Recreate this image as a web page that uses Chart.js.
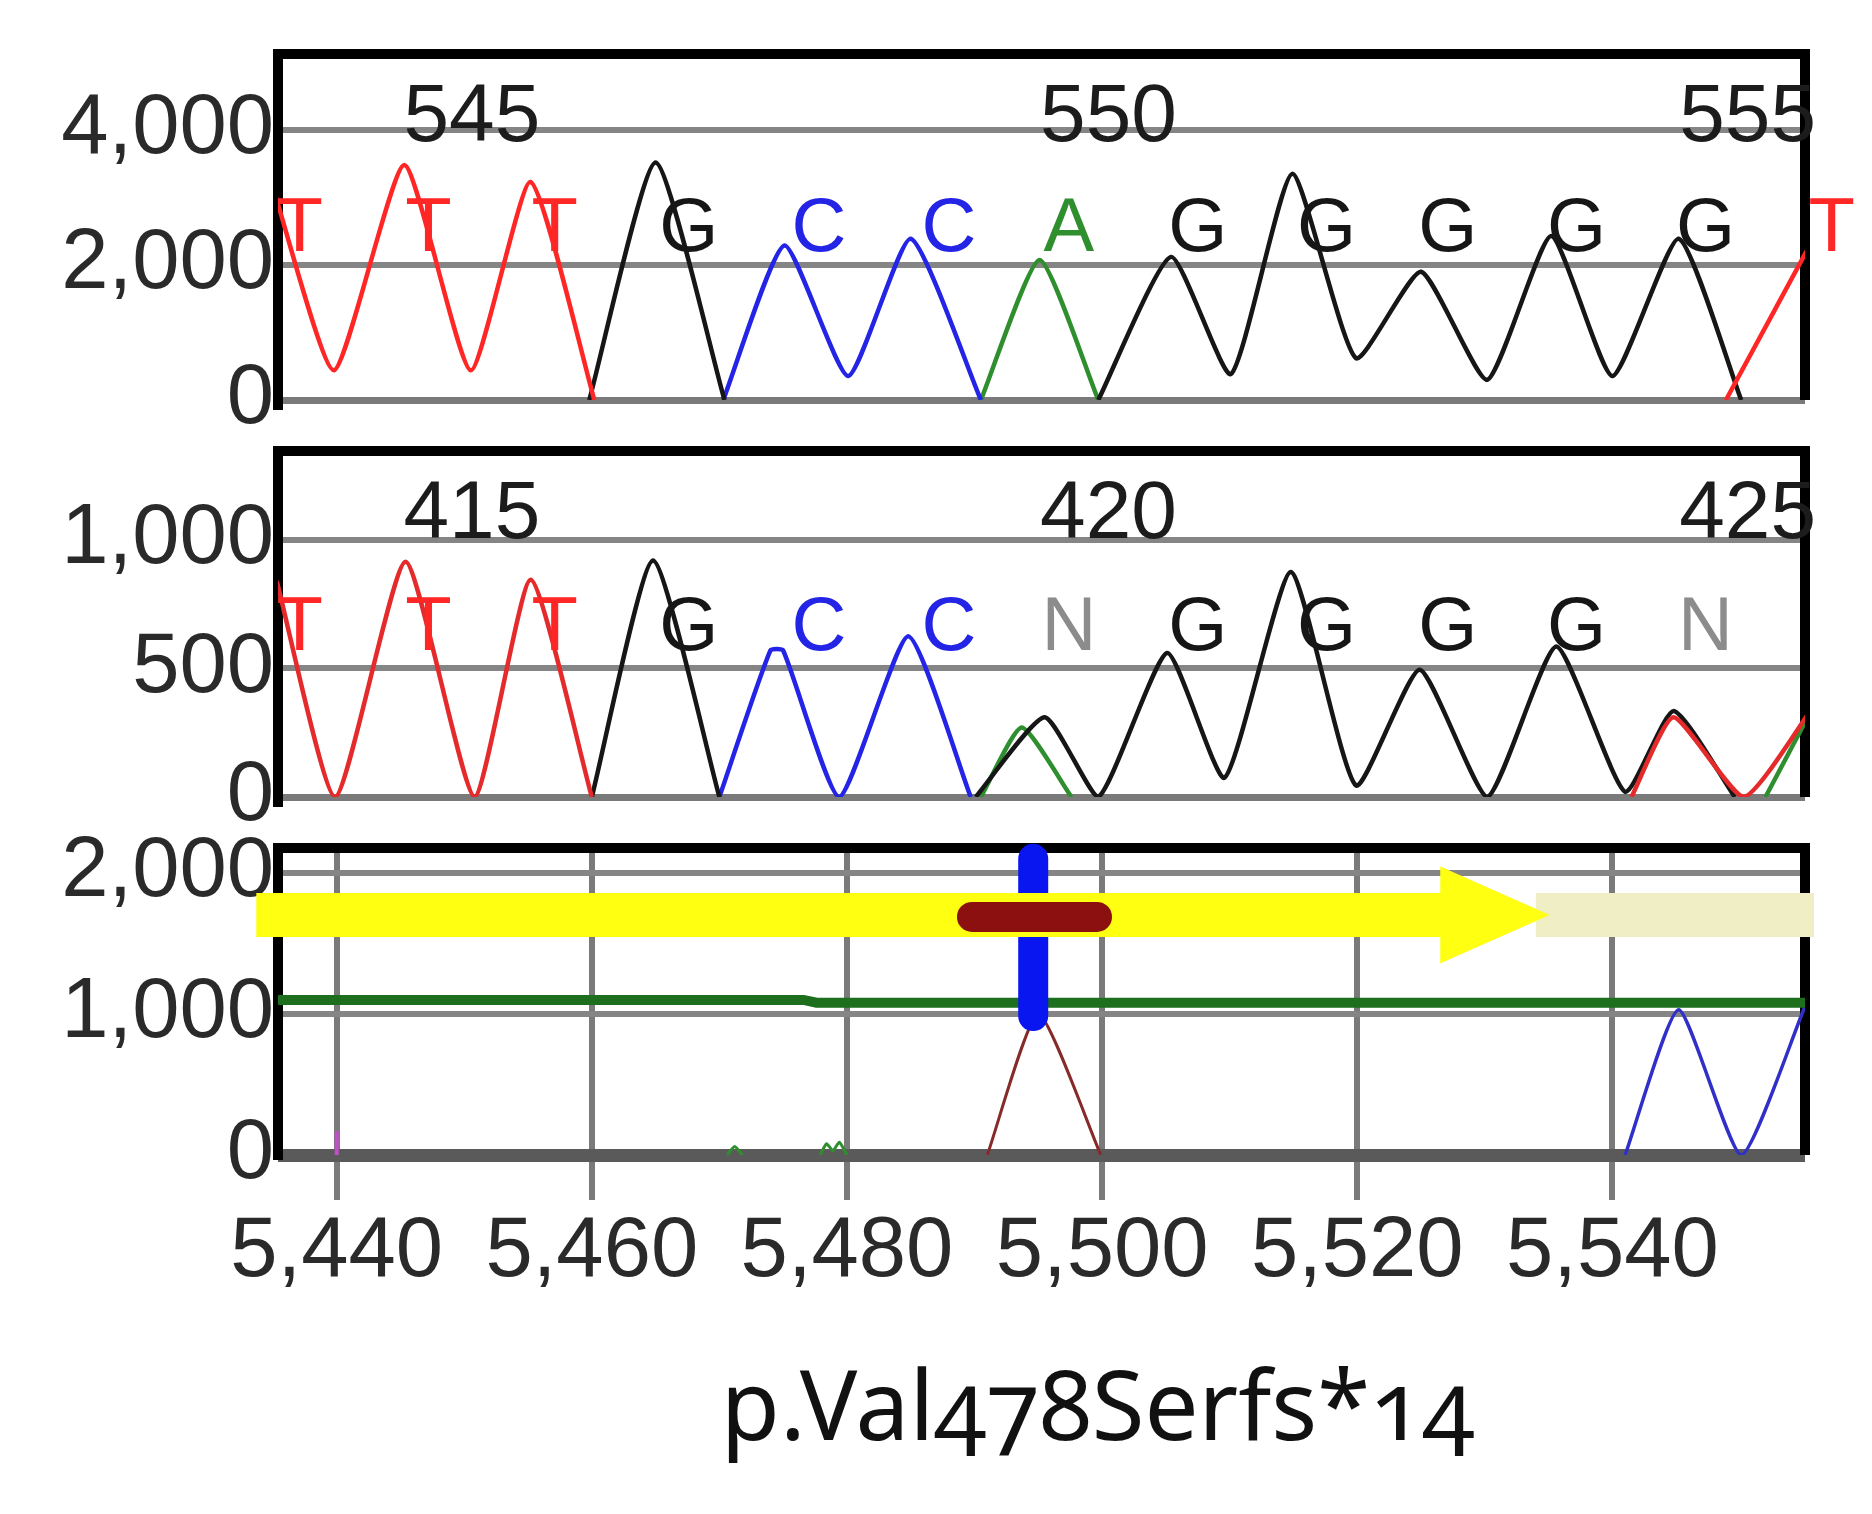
<!DOCTYPE html>
<html lang="en">
<head>
<meta charset="UTF-8">
<title>Chromatogram p.Val478Serfs*14</title>
<style>
  body { margin: 0; background: #fff; }
  #page { position: relative; width: 1872px; height: 1514px; overflow: hidden; background: #fff; }
  canvas { position: absolute; left: 0; }
  #c1 { top: 0; }
  #c2 { top: 420px; }
  #c3 { top: 820px; }
  #variant {
    position: absolute;
    left: 1098px;
    top: 1355px;
    transform: translateX(-50%);
    font-family: "Noto Sans", "Open Sans", sans-serif;
    font-size: 96px;
    line-height: 1;
    font-feature-settings: "onum" 1;
    font-variant-numeric: oldstyle-nums;
    color: #111;
    white-space: nowrap;
  }
</style>
</head>
<body>
<div id="page">
  <canvas id="c1" width="1872" height="450"></canvas>
  <canvas id="c2" width="1872" height="440"></canvas>
  <canvas id="c3" width="1872" height="520"></canvas>
  <div id="variant">p.Val478Serfs*14</div>
</div>

<script src="https://cdn.jsdelivr.net/npm/chart.js@4"></script>
<script>
// scan window shared by all three panels
const scanMin = 5435.4;
const scanMax = 5555.1;
const scanTicks = [5440, 5460, 5480, 5500, 5520, 5540];

// base calls (scan position of each called base)
const basePos = [5437.1, 5447.2, 5457.1, 5467.6, 5477.8, 5488.0, 5497.4, 5507.5, 5517.6, 5527.1, 5537.2, 5547.3, 5557.2];
const numPos = [5450.6, 5500.5, 5550.6];

// top panel - reference sequence, positions 545-555
const refTicks = [0, 2000, 4000];
const refMax = 5126;
const refBases = ['T', 'T', 'T', 'G', 'C', 'C', 'A', 'G', 'G', 'G', 'G', 'G', 'T'];
const refNums = ['545', '550', '555'];
const refT = [[5435.0, 3150], [5439.8, 440], [5445.3, 3480], [5450.5, 440], [5455.2, 3230], [5460.2, 0], null, [5548.9, 0], [5556.5, 2650]];
const refG = [[5459.8, 0], [5465.0, 3520], [5470.4, 0], null, [5499.7, 0], [5505.4, 2120], [5510.1, 385], [5514.9, 3350], [5519.9, 620], [5525.0, 1900], [5530.2, 300], [5535.2, 2430], [5540.0, 355], [5545.2, 2390], [5550.1, 0]];
const refC = [[5470.3, 0], [5475.1, 2290], [5480.1, 355], [5485.0, 2390], [5490.5, 0]];
const refA = [[5490.5, 0], [5495.1, 2075], [5499.7, 0]];

// middle panel - patient sequence, positions 415-425
const patTicks = [0, 500, 1000];
const patMax = 1346;
const patBases = ['T', 'T', 'T', 'G', 'C', 'C', 'N', 'G', 'G', 'G', 'G', 'N'];
const patNums = ['415', '420', '425'];
const patT = [[5435.3, 840], [5439.9, 0], [5445.4, 915], [5450.8, 0], [5455.2, 845], [5460.0, 0], null, [5541.5, 0], [5544.8, 310], [5550.3, 0], [5556.0, 370]];
const patG = [[5460.0, 0], [5464.8, 920], [5470.0, 0], null, [5490.1, 0], [5495.5, 310], [5499.7, 0], [5505.1, 560], [5509.6, 75], [5514.8, 875], [5519.9, 45], [5524.9, 495], [5530.2, 0], [5535.6, 585], [5541.0, 20], [5544.8, 335], [5549.6, 0]];
const patC = [[5470.0, 0], [5474.0, 570], [5475.0, 570], [5479.4, 0], [5484.8, 625], [5489.7, 0]];
const patA = [[5490.5, 0], [5493.7, 270], [5497.6, 0], null, [5552.0, 0], [5555.2, 300]];

// bottom panel - track view
const trkTicks = [0, 1000, 2000];
const trkMax = 2177;
const trkBrown = [[5491.0, 0], [5495.0, 1000], [5499.9, 0]];
const trkBlue = [[5541.0, 0], [5545.2, 1030], [5550.1, 0], [5555.0, 1030], [5556.0, 1240]];
const trkGreen = [[5435.4, 1100], [5476.6, 1100], [5477.6, 1080], [5555.1, 1080]];
const trkBlips = [[5470.6, 0], [5471.2, 60], [5471.8, 0], null, [5477.9, 0], [5478.4, 80], [5478.9, 30], [5479.4, 90], [5480.0, 0]];
const trkMark = [[5440.0, 0], [5440.0, 170]];
const arrowShaft = [[5433.7, 1702], [5528.0, 1702]];
const arrowHeadUp = [[5526.5, 2043], [5535.0, 1702]];
const arrowHeadDown = [[5526.5, 1362], [5535.0, 1702]];
const arrowTail = [[5534.0, 1702], [5555.8, 1702]];
const variantBar = [[5489.8, 1688], [5499.6, 1688]];
const cursorBar = [[5494.6, 2100], [5494.6, 985]];

const baseColors = { T: '#ff2626', G: '#161616', C: '#2424e6', A: '#2f8f2f', N: '#8c8c8c' };
const labelFont = { family: 'Liberation Sans', size: 85 };

function xy(pts) {
  return pts.map((p, i) => p ? { x: p[0], y: p[1] } : { x: pts[i - 1][0], y: null });
}

function trace(pts, color, width, tension) {
  return {
    data: xy(pts),
    borderColor: color,
    borderWidth: width || 4.5,
    pointRadius: 0,
    tension: tension === undefined ? 0.18 : tension,
    fill: false
  };
}

function fmt(v) {
  return Number(v).toLocaleString('en-US');
}

// black box around a panel (drawn under the traces)
function framePlugin(below) {
  return {
    id: 'frame',
    beforeDatasetsDraw(chart) {
      const { ctx, chartArea: a } = chart;
      ctx.save();
      ctx.strokeStyle = '#000';
      ctx.lineWidth = 10;
      ctx.beginPath();
      ctx.moveTo(a.left, a.bottom + below);
      ctx.lineTo(a.left, a.top);
      ctx.lineTo(a.right, a.top);
      ctx.lineTo(a.right, a.bottom);
      ctx.stroke();
      ctx.restore();
    }
  };
}

// base letters and position numbers
function textPlugin(marks) {
  return {
    id: 'seqText',
    afterDatasetsDraw(chart) {
      const { ctx, scales: { x, y } } = chart;
      ctx.save();
      ctx.textAlign = 'center';
      ctx.textBaseline = 'middle';
      marks.forEach(m => {
        ctx.font = m.size + 'px "Liberation Sans"';
        ctx.fillStyle = m.color;
        ctx.fillText(m.text, x.getPixelForValue(m.x), y.getPixelForValue(m.y));
      });
      ctx.restore();
    }
  };
}

function makeMarks(bases, nums, letterLevel, numLevel) {
  const letters = bases.map((b, i) => ({ x: basePos[i], y: letterLevel, text: b, color: baseColors[b], size: 76 }));
  const numbers = nums.map((n, i) => ({ x: numPos[i], y: numLevel, text: n, color: '#1c1c1c', size: 82 }));
  return letters.concat(numbers);
}

function yScale(ticks, max, zeroColor, zeroWidth) {
  return {
    type: 'linear',
    min: 0,
    max: max,
    afterBuildTicks: s => { s.ticks = ticks.map(v => ({ value: v })); },
    afterFit: s => { s.width = 278; s.paddingTop = 0; s.paddingBottom = 0; },
    grid: {
      color: c => c.tick && c.tick.value === 0 ? zeroColor : '#858585',
      lineWidth: c => c.tick && c.tick.value === 0 ? zeroWidth : 6,
      drawTicks: false
    },
    border: { display: false },
    ticks: { padding: 4, color: '#2a2a2a', font: labelFont, callback: v => fmt(v) }
  };
}

function baseOptions(padding, xs, ys) {
  return {
    animation: false,
    responsive: false,
    events: [],
    layout: { padding: padding },
    plugins: { legend: { display: false }, tooltip: { enabled: false } },
    scales: { x: xs, y: ys }
  };
}

const hiddenX = { type: 'linear', display: false, min: scanMin, max: scanMax };

// top panel
new Chart(document.getElementById('c1'), {
  type: 'line',
  data: {
    datasets: [
      trace(refT, '#ff2626'),
      trace(refG, '#161616'),
      trace(refC, '#2424e6'),
      trace(refA, '#2f8f2f')
    ]
  },
  options: baseOptions({ left: 0, right: 67, top: 54, bottom: 50 }, hiddenX, yScale(refTicks, refMax, '#7a7a7a', 7)),
  plugins: [framePlugin(10), textPlugin(makeMarks(refBases, refNums, 2515, 4170))]
});

// middle panel
new Chart(document.getElementById('c2'), {
  type: 'line',
  data: {
    datasets: [
      trace(patT, '#e42a2a'),
      trace(patG, '#161616'),
      trace(patC, '#2424e6'),
      trace(patA, '#2f8f2f')
    ]
  },
  options: baseOptions({ left: 0, right: 67, top: 31, bottom: 63 }, hiddenX, yScale(patTicks, patMax, '#7a7a7a', 7)),
  plugins: [framePlugin(10), textPlugin(makeMarks(patBases, patNums, 652, 1094))]
});

// bottom panel
const trackX = {
  type: 'linear',
  min: scanMin,
  max: scanMax,
  afterBuildTicks: s => { s.ticks = scanTicks.map(v => ({ value: v })); },
  afterFit: s => { s.height = 185; s.paddingLeft = 0; s.paddingRight = 0; },
  grid: { color: '#7a7a7a', lineWidth: 6, tickLength: 45 },
  border: { display: false },
  ticks: { padding: 2, autoSkip: false, maxRotation: 0, color: '#2a2a2a', font: labelFont, callback: v => fmt(v) }
};

const yellow = '#ffff12';
new Chart(document.getElementById('c3'), {
  type: 'line',
  data: {
    datasets: [
      Object.assign(trace(variantBar, '#8c1010', 30, 0), { borderCapStyle: 'round', clip: false }),
      Object.assign(trace(arrowHeadUp, yellow, 1, 0), { fill: { value: 1702 }, backgroundColor: yellow }),
      Object.assign(trace(arrowHeadDown, yellow, 1, 0), { fill: { value: 1702 }, backgroundColor: yellow }),
      Object.assign(trace(arrowShaft, yellow, 44, 0), { clip: false }),
      Object.assign(trace(arrowTail, '#efeec4', 44, 0), { clip: false }),
      Object.assign(trace(cursorBar, '#0a16f0', 30, 0), { borderCapStyle: 'round', clip: false }),
      trace(trkGreen, '#1d6e1d', 10, 0),
      trace(trkBrown, '#862a2a', 3),
      trace(trkBlue, '#3030c8', 3.5),
      trace(trkBlips, '#2f8f2f', 3),
      trace(trkMark, '#c050c8', 4, 0)
    ]
  },
  options: baseOptions({ left: 0, right: 67, top: 28, bottom: 0 }, trackX, yScale(trkTicks, trkMax, '#5a5a5a', 13)),
  plugins: [framePlugin(5)]
});
</script>
</body>
</html>
